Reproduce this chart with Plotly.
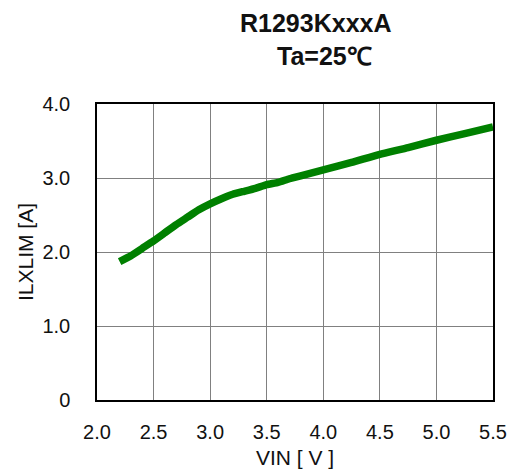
import plotly.graph_objects as go

vin = [2.2, 2.3, 2.4, 2.5, 2.6, 2.7, 2.8, 2.9, 3.0, 3.1, 3.2, 3.3, 3.4, 3.5, 3.6, 3.7, 3.8,
       3.9, 4.0, 4.25, 4.5, 4.75, 5.0, 5.25, 5.5]
ilxlim = [1.87, 1.95, 2.05, 2.15, 2.26, 2.37, 2.47, 2.57, 2.65, 2.72, 2.78, 2.82, 2.86, 2.91, 2.94,
          2.99, 3.03, 3.07, 3.11, 3.21, 3.32, 3.41, 3.51, 3.60, 3.69]

x_ticks = [2.0, 2.5, 3.0, 3.5, 4.0, 4.5, 5.0, 5.5]
x_labels = ["2.0", "2.5", "3.0", "3.5", "4.0", "4.5", "5.0", "5.5"]
y_ticks = [0, 1, 2, 3, 4]
y_labels = ["0", "1.0", "2.0", "3.0", "4.0"]
title_lines = ["R1293KxxxA", "Ta=25℃"]

fig = go.Figure()
fig.add_trace(go.Scatter(x=vin, y=ilxlim, mode="lines",
                         line=dict(color="#008000", width=7.5, shape="spline", smoothing=0.4),
                         showlegend=False, hoverinfo="skip"))

font = "Liberation Sans, Arial, sans-serif"
fig.update_layout(
    width=508, height=474,
    margin=dict(l=97, r=15, t=104, b=74, autoexpand=False),
    paper_bgcolor="white", plot_bgcolor="white",
    font=dict(family=font, color="#111111", size=20),
    xaxis=dict(range=[2.0, 5.5], tickvals=x_ticks, ticktext=x_labels,
               showgrid=True, gridcolor="#808080", gridwidth=1,
               showline=True, linecolor="black", linewidth=1.5, mirror=True,
               ticks="", zeroline=False, tickfont=dict(size=20), automargin=False,
               ticklabelstandoff=13,
               title=dict(text="VIN [ V ]", font=dict(size=21), standoff=9)),
    yaxis=dict(range=[0, 4.0], tickvals=y_ticks, ticktext=y_labels,
               showgrid=True, gridcolor="#808080", gridwidth=1,
               showline=True, linecolor="black", linewidth=1.5, mirror=True,
               ticks="", zeroline=False, tickfont=dict(size=20), automargin=False,
               ticklabelstandoff=21,
               title=dict(text="ILXLIM [A]", font=dict(size=21), standoff=3)),
)
title_x = [0.553, 0.574]
title_shift = [81, 48]
for i, t in enumerate(title_lines):
    fig.add_annotation(text="<b>%s</b>" % t, xref="paper", yref="paper",
                       x=title_x[i], y=1.0, yshift=title_shift[i], xanchor="center",
                       yanchor="middle", showarrow=False,
                       font=dict(size=25, family=font, color="#111111"))
fig.write_html("out.html")
